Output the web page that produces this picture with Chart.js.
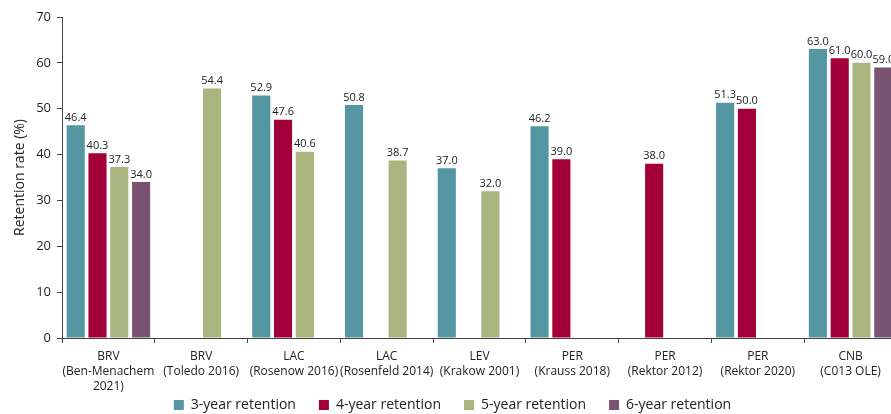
<!DOCTYPE html>
<html><head><meta charset="utf-8">
<script src="https://cdn.jsdelivr.net/npm/chart.js@4.4.1/dist/chart.umd.min.js"></script>
<style>html,body{margin:0;padding:0;overflow:hidden;background:#fff}</style>
</head><body>
<canvas id="c" width="912" height="414" style="display:block"></canvas>
<script>
const categories = [["BRV","(Ben-Menachem","2021)"],["BRV","(Toledo 2016)"],["LAC","(Rosenow 2016)"],["LAC","(Rosenfeld 2014)"],["LEV","(Krakow 2001)"],["PER","(Krauss 2018)"],["PER","(Rektor 2012)"],["PER","(Rektor 2020)"],["CNB","(C013 OLE)"]];
const seriesNames = ["3-year retention","4-year retention","5-year retention","6-year retention"];
const retention3 = [46.4,null,52.9,50.8,37.0,46.2,null,51.3,63.0];
const retention4 = [40.3,null,47.6,null,null,39.0,38.0,50.0,61.0];
const retention5 = [37.3,54.4,40.6,38.7,32.0,null,null,null,60.0];
const retention6 = [34.0,null,null,null,null,null,null,null,59.0];
const yTicks = [0,10,20,30,40,50,60,70];
const yTitle = "Retention rate (%)";

const colors = ["#5596A3","#A3003A","#A9B47E","#7A5373"];
const seriesValues = [retention3, retention4, retention5, retention6];

Chart.defaults.font.family = "'Open Sans', sans-serif";
Chart.defaults.color = "#222";

const dataLabels = {
  id: "dataLabels",
  afterDatasetsDraw(chart) {
    const ctx = chart.ctx;
    ctx.save();
    ctx.font = "11px 'Open Sans', sans-serif";
    ctx.fillStyle = "#222";
    ctx.textAlign = "center";
    ctx.textBaseline = "bottom";
    chart.data.datasets.forEach((ds, i) => {
      const meta = chart.getDatasetMeta(i);
      meta.data.forEach((bar, j) => {
        const v = ds.data[j];
        if (v === null || v === undefined) return;
        ctx.fillText(v.toFixed(1), bar.x, bar.y - 2);
      });
    });
    ctx.restore();
  }
};

const legendShift = {
  id: "legendShift",
  afterLayout(chart) {
    const lg = chart.legend;
    if (lg) { lg.top -= 19; lg.bottom -= 19; lg.left += 4; lg.right += 4; }
  }
};

new Chart(document.getElementById("c"), {
  type: "bar",
  data: {
    labels: categories,
    datasets: seriesNames.map((n, i) => ({
      label: n,
      data: seriesValues[i],
      backgroundColor: colors[i],
      borderWidth: 0,
      categoryPercentage: 0.94,
      barPercentage: 0.83
    }))
  },
  options: {
    responsive: false,
    animation: false,
    devicePixelRatio: 1,
    layout: { padding: { top: 17, right: 15, left: 0, bottom: -27 } },
    plugins: {
      legend: {
        position: "bottom",
        labels: { boxWidth: 10, boxHeight: 10, padding: 23, font: { size: 14 }, color: "#222" }
      },
      tooltip: { enabled: false }
    },
    scales: {
      x: {
        grid: { display: true, drawOnChartArea: false, drawTicks: true, tickLength: 5, color: "#444", offset: true },
        border: { display: true, color: "#444" },
        ticks: { font: { size: 12, lineHeight: 1.25 }, color: "#222", maxRotation: 0, autoSkip: false, padding: 6 },
        afterFit(s) { s.height = 56; }
      },
      y: {
        min: 0, max: 70,
        afterBuildTicks(s) { s.ticks = yTicks.map(v => ({ value: v })); },
        grid: { display: true, drawOnChartArea: false, drawTicks: true, tickLength: 5, color: "#444" },
        border: { display: true, color: "#444" },
        ticks: { font: { size: 13 }, color: "#222", padding: 6 },
        title: { display: true, text: yTitle, font: { size: 14 }, color: "#222", padding: { top: 12, bottom: 0 } },
        afterFit(s) { s.width = 62; }
      }
    }
  },
  plugins: [dataLabels, legendShift]
});
</script>
</body></html>
